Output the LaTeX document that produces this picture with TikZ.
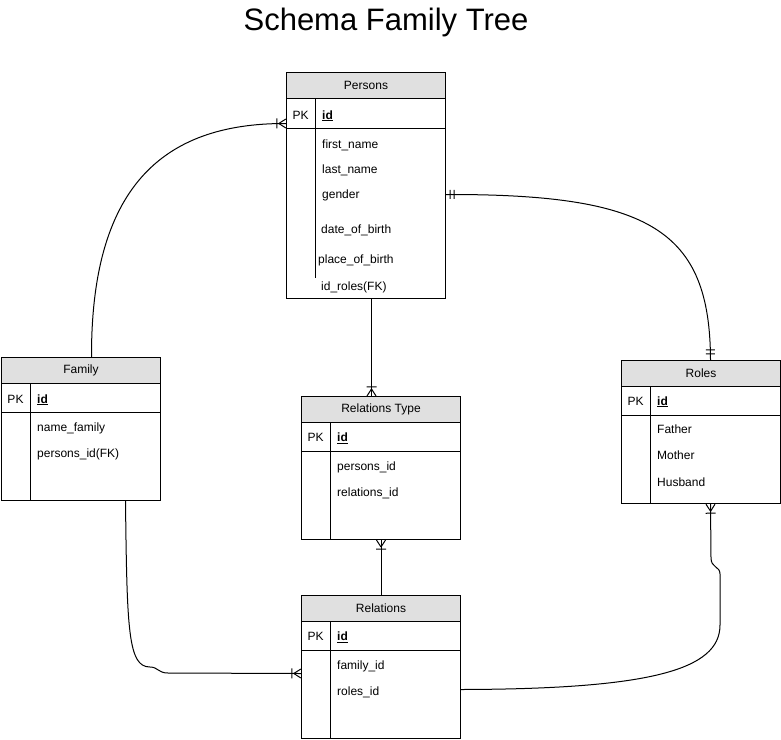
\documentclass[tikz,border=0pt]{standalone}
\usepackage{fontspec}
\setmainfont{Liberation Sans}
\usetikzlibrary{decorations.markings}

\definecolor{headgray}{RGB}{224,224,224}

\tikzset{
	entity/.style={draw, line width=1pt, minimum width=159pt, inner sep=0pt, anchor=north west, font=\fontsize{12}{14}\selectfont},
	head/.style={entity, fill=headgray, minimum height=26pt},
	field/.style={inner sep=0pt, anchor=base west, font=\fontsize{12}{14}\selectfont},
	pklabel/.style={inner sep=0pt, anchor=base, font=\fontsize{12}{14}\selectfont},
	link/.style={line width=1pt},
	manyend/.style={postaction={decorate, decoration={markings, mark=at position 0.9995 with {\draw[line width=1pt] (-7,0) -- (0,4.5) (-7,0) -- (0,-4.5) (-9,-5) -- (-9,5);}}}},
	oneend/.style={postaction={decorate, decoration={markings, mark=at position 0.9995 with {\draw[line width=1pt] (-6,-4.5) -- (-6,4.5) (-10,-4.5) -- (-10,4.5);}}}},
	onestart/.style={postaction={decorate, decoration={markings, mark=at position 0.0005 with {\draw[line width=1pt] (4,-4.5) -- (4,4.5) (8,-4.5) -- (8,4.5);}}}}
}

\begin{document}
\begin{tikzpicture}[x=1pt, y=-1pt]
		\useasboundingbox (0,0) rectangle (781,739);

		\draw (386,30) node [anchor=base, inner sep=0pt, font=\fontsize{31}{36}\selectfont] (title) {Schema Family Tree};

		% Persons
		\draw (286,72) node [head] (persons) {Persons};
		\draw (286,98) node [entity, minimum height=30pt] (persons-pk) {};
		\draw (286,128) node [entity, minimum height=170pt] (persons-body) {};
		\draw (315,98) -- (315,278);
		\draw (300.5,119) node [pklabel] (persons-pkl) {PK};
		\draw (322,119) node [field] (persons-id) {\underline{\textbf{id}}};
		\draw (322,148) node [field] (persons-f1) {first\_name};
		\draw (322,173) node [field] (persons-f2) {last\_name};
		\draw (322,198) node [field] (persons-f3) {gender};
		\draw (321,233) node [field] (persons-f4) {date\_of\_birth};
		\draw (318,263) node [field] (persons-f5) {place\_of\_birth};
		\draw (321,290) node [field] (persons-f6) {id\_roles(FK)};

		% Family
		\draw (1,357) node [head] (family) {Family};
		\draw (1,383) node [entity, minimum height=29pt] (family-pk) {};
		\draw (1,412) node [entity, minimum height=88pt] (family-body) {};
		\draw (30,383) -- (30,500);
		\draw (15.5,403) node [pklabel] (family-pkl) {PK};
		\draw (37,403) node [field] (family-id) {\underline{\textbf{id}}};
		\draw (37,431.5) node [field] (family-f1) {name\_family};
		\draw (37,457) node [field] (family-f2) {persons\_id(FK)};

		% Roles
		\draw (621,360) node [head] (roles) {Roles};
		\draw (621,386) node [entity, minimum height=29pt] (roles-pk) {};
		\draw (621,415) node [entity, minimum height=88pt] (roles-body) {};
		\draw (650,386) -- (650,503);
		\draw (635.5,405) node [pklabel] (roles-pkl) {PK};
		\draw (657,405) node [field] (roles-id) {\underline{\textbf{id}}};
		\draw (657,433) node [field] (roles-f1) {Father};
		\draw (657,459.5) node [field] (roles-f2) {Mother};
		\draw (657,486) node [field] (roles-f3) {Husband};

		% Relations Type
		\draw (301,396) node [head] (reltype) {Relations Type};
		\draw (301,422) node [entity, minimum height=29pt] (reltype-pk) {};
		\draw (301,451) node [entity, minimum height=88pt] (reltype-body) {};
		\draw (330,422) -- (330,539);
		\draw (315.5,441.5) node [pklabel] (reltype-pkl) {PK};
		\draw (337,441.5) node [field] (reltype-id) {\underline{\textbf{id}}};
		\draw (337,470.5) node [field] (reltype-f1) {persons\_id};
		\draw (337,496) node [field] (reltype-f2) {relations\_id};

		% Relations
		\draw (301,595) node [head] (relations) {Relations};
		\draw (301,621) node [entity, minimum height=29pt] (relations-pk) {};
		\draw (301,650) node [entity, minimum height=88pt] (relations-body) {};
		\draw (330,621) -- (330,738);
		\draw (315.5,640.5) node [pklabel] (relations-pkl) {PK};
		\draw (337,640.5) node [field] (relations-id) {\underline{\textbf{id}}};
		\draw (337,669) node [field] (relations-f1) {family\_id};
		\draw (337,695) node [field] (relations-f2) {roles\_id};

		% links
		\draw [link, manyend] ([xshift=10.5]family.north) .. controls (91,190) and (160,123) .. ([yshift=-10]persons-pk.west);
		\draw [link, onestart, oneend] ([yshift=19]persons-body.east) .. controls (650,194) and (710,230) .. ([xshift=9.5]roles.north);
		\draw [link, manyend] ([xshift=5.5]persons-body.south) -- ([xshift=-9.5]reltype.north);
		\draw [link, manyend] (relations.north) -- (reltype-body.south);
		\draw [link, manyend] ([xshift=44.5]family-body.south) .. controls (127,630) and (128,667) .. (150,667) .. controls (158,667) and (158,673) .. (168,673) -- ([yshift=21]relations-body.west);
		\draw [link, manyend] ([yshift=5]relations-body.east) .. controls (650,689) and (720,670) .. (720,625) -- (720,574) .. controls (720,566) and (711,568) .. (711,558) -- ([xshift=9.5]roles-body.south);
	\end{tikzpicture}
\end{document}
